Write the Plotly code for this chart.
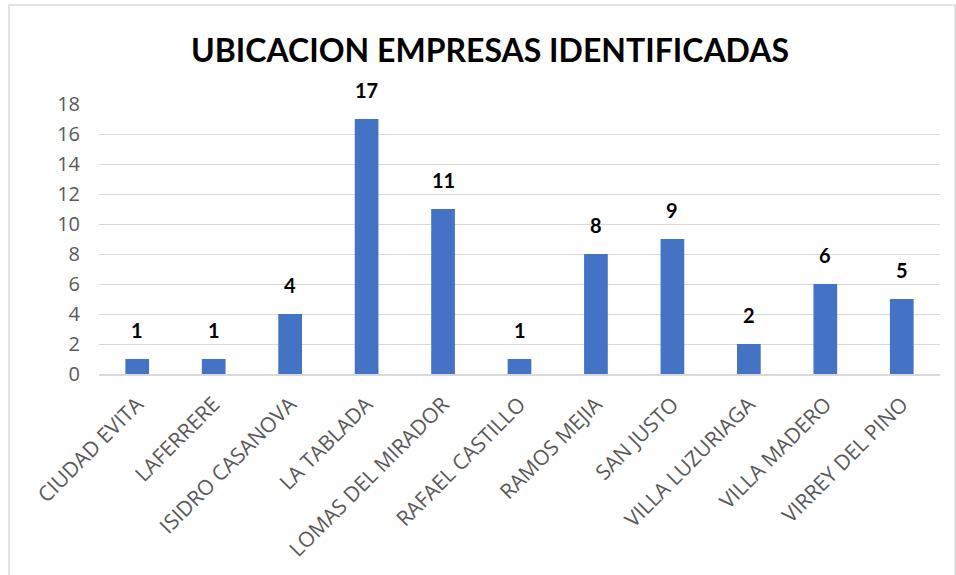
import plotly.graph_objects as go

categories = ["CIUDAD EVITA", "LAFERRERE", "ISIDRO CASANOVA", "LA TABLADA",
              "LOMAS DEL MIRADOR", "RAFAEL CASTILLO", "RAMOS MEJIA", "SAN JUSTO",
              "VILLA LUZURIAGA", "VILLA MADERO", "VIRREY DEL PINO"]
values = [1, 1, 4, 17, 11, 1, 8, 9, 2, 6, 5]
y_ticks = [0, 2, 4, 6, 8, 10, 12, 14, 16, 18]

fig = go.Figure(go.Bar(x=categories, y=values, marker_color="#4472C4", marker_line_width=0))

annotations = [dict(x=c, y=v, xref="x", yref="y", text=f"<b>{v}</b>", showarrow=False,
                    yanchor="bottom", yshift=15,
                    font=dict(family="Lato", size=20, color="black"))
               for c, v in zip(categories, values)]

fig.update_layout(
    width=956, height=575,
    margin=dict(l=99, r=16, t=104, b=201),
    paper_bgcolor="white", plot_bgcolor="white",
    bargap=0.69,
    showlegend=False,
    annotations=annotations,
    title=dict(text="<b>UBICACION EMPRESAS IDENTIFICADAS</b>", x=0.5126, xanchor="center",
               y=0.911, yanchor="middle",
               font=dict(family="Lato", size=32, color="black")),
    shapes=[dict(type="rect", xref="paper", yref="paper", x0=-0.107, x1=1.018, y0=-0.8, y1=1.367,
                 line=dict(color="#d9d9d9", width=1.5), fillcolor="rgba(0,0,0,0)", layer="below")],
)
fig.update_yaxes(range=[0, 18], tickvals=y_ticks, showgrid=True, gridcolor="#d9d9d9", gridwidth=1.3,
                 zeroline=False, showline=False, ticks="", ticklabelstandoff=18,
                 tickfont=dict(family="Open Sans", size=20, color="#595959"))
fig.update_xaxes(tickangle=-45, showline=True, linecolor="#d9d9d9", linewidth=1.5,
                 ticklabelstandoff=8,
                 tickfont=dict(family="Open Sans", size=21, color="#595959"), ticks="")

fig.write_html("out.html", config={"displayModeBar": False},
               post_script="document.body.style.margin='0';")
